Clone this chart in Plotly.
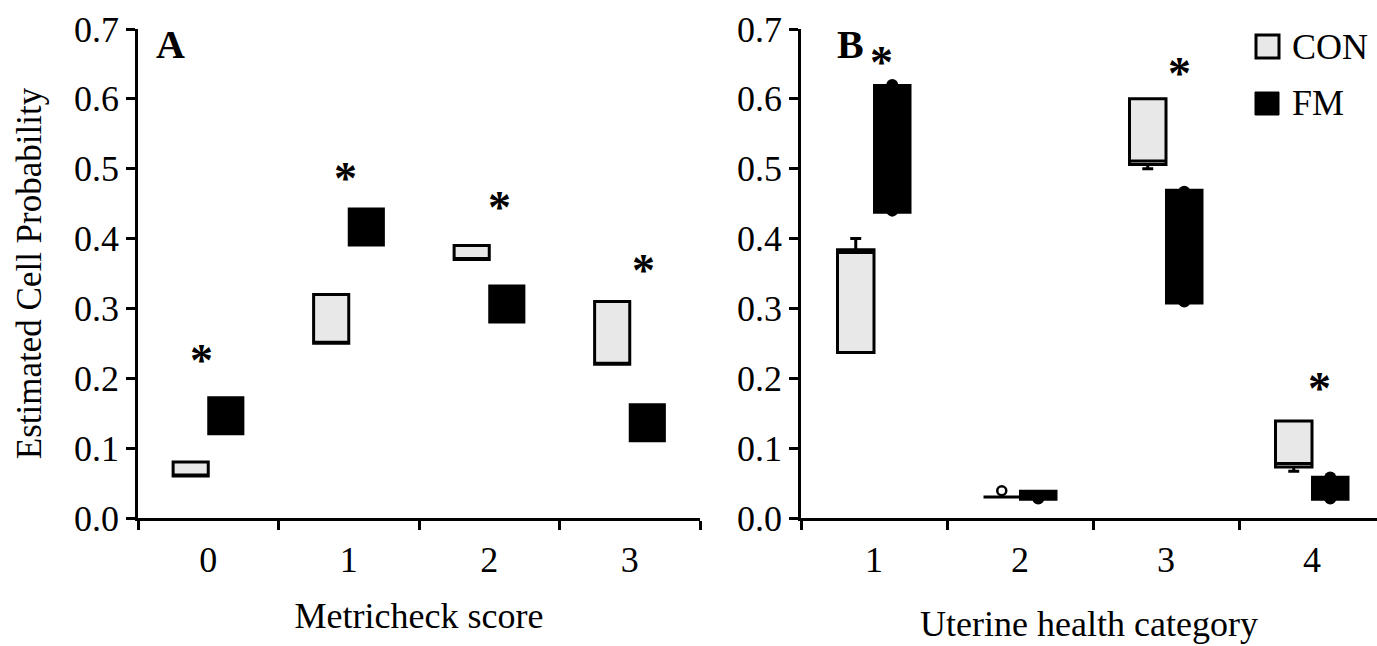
import plotly.graph_objects as go

W, H = 1377, 646
FONT = "Liberation Serif"

# ---------------- Panel A data (Metricheck score) ----------------
metricheck_scores = [0, 1, 2, 3]
metricheck_labels = ["0", "1", "2", "3"]
a_con_q1 = [0.06, 0.25, 0.37, 0.22]
a_con_q3 = [0.08, 0.32, 0.39, 0.31]
a_fm_q1 = [0.12, 0.39, 0.28, 0.11]
a_fm_q3 = [0.173, 0.443, 0.333, 0.163]
a_star_x = [-0.05, 0.98, 2.07, 3.10]
a_star_y = [0.233, 0.493, 0.451, 0.361]

# ---------------- Panel B data (Uterine health category) ----------------
uterine_cats = [1, 2, 3, 4]
uterine_labels = ["1", "2", "3", "4"]
b_con_q1 = [0.237, 0.030, 0.506, 0.073]
b_con_med = [0.380, 0.030, 0.511, 0.078]
b_con_q3 = [0.384, 0.030, 0.600, 0.139]
b_con_low = [0.237, 0.030, 0.500, 0.067]
b_con_up = [0.400, 0.030, 0.600, 0.139]
b_con_out_x = [2]
b_con_out_y = [0.039]
b_fm_q1 = [0.437, 0.026, 0.307, 0.026]
b_fm_q3 = [0.620, 0.039, 0.470, 0.059]
b_fm_dot_x = [1, 1, 2, 3, 3, 4, 4]
b_fm_dot_y = [0.440, 0.620, 0.028, 0.310, 0.467, 0.028, 0.058]
b_star_x = [1.05, 3.09, 4.05]
b_star_y = [0.659, 0.644, 0.193]

y_ticks = [0.0, 0.1, 0.2, 0.3, 0.4, 0.5, 0.6, 0.7]

CON_FILL = "#e8e8e8"
OFF = 0.125   # half box width: CON left of category, FM right
BW = 0.25

fig = go.Figure()

# Panel A boxes
fig.add_trace(go.Box(
    x=[c - OFF for c in metricheck_scores], q1=a_con_q1, median=a_con_q1, q3=a_con_q3,
    lowerfence=a_con_q1, upperfence=a_con_q3, width=BW, boxpoints=False,
    fillcolor=CON_FILL, line=dict(color="black", width=3), whiskerwidth=0.3,
    name="CON", showlegend=False, xaxis="x", yaxis="y"))
fig.add_trace(go.Box(
    x=[c + OFF for c in metricheck_scores], q1=a_fm_q1, median=a_fm_q1, q3=a_fm_q3,
    lowerfence=a_fm_q1, upperfence=a_fm_q3, width=BW, boxpoints=False,
    fillcolor="black", line=dict(color="black", width=2), whiskerwidth=0.3,
    name="FM", showlegend=False, xaxis="x", yaxis="y"))

# Panel B boxes
fig.add_trace(go.Box(
    x=[c - OFF for c in uterine_cats], q1=b_con_q1, median=b_con_med, q3=b_con_q3,
    lowerfence=b_con_low, upperfence=b_con_up, width=BW, boxpoints=False,
    fillcolor=CON_FILL, line=dict(color="black", width=3), whiskerwidth=0.3,
    name="CON", showlegend=False, xaxis="x2", yaxis="y2"))
fig.add_trace(go.Box(
    x=[c + OFF for c in uterine_cats], q1=b_fm_q1, median=b_fm_q1, q3=b_fm_q3,
    lowerfence=b_fm_q1, upperfence=b_fm_q3, width=BW, boxpoints=False,
    fillcolor="black", line=dict(color="black", width=2), whiskerwidth=0.3,
    name="FM", showlegend=False, xaxis="x2", yaxis="y2"))
fig.add_trace(go.Scatter(
    x=[c + OFF for c in b_fm_dot_x], y=b_fm_dot_y, mode="markers",
    marker=dict(symbol="circle", size=12, color="black"),
    showlegend=False, xaxis="x2", yaxis="y2"))
fig.add_trace(go.Scatter(
    x=[c - OFF for c in b_con_out_x], y=b_con_out_y, mode="markers",
    marker=dict(symbol="circle", size=9, color="white", line=dict(color="black", width=2.5)),
    showlegend=False, xaxis="x2", yaxis="y2"))

def px_x(p):
    return p / W

def px_y(p):
    return 1 - p / H

axis_common = dict(showline=True, linecolor="black", linewidth=2.5, showgrid=False,
                   zeroline=False, automargin=False,
                   tickfont=dict(family=FONT, size=36, color="black"))

ydom = [px_y(518), px_y(29)]
xdomA = [px_x(138), px_x(700)]
xdomB = [px_x(801), 1.0]

fig.update_layout(
    width=W, height=H, margin=dict(l=0, r=0, t=0, b=0, autoexpand=False), autosize=False,
    plot_bgcolor="white", paper_bgcolor="white", boxmode="overlay",
    font=dict(family=FONT, color="black"),
    xaxis=dict(domain=xdomA, range=[-0.5, 3.5], anchor="y",
               tickmode="array", tickvals=metricheck_scores, ticktext=metricheck_labels,
               ticks="", ticklabelstandoff=8,
               minor=dict(tickmode="array", tickvals=[-0.5, 0.5, 1.5, 2.5, 3.5],
                          ticks="outside", ticklen=9, tickwidth=2.5, tickcolor="black"),
               title=dict(text="Metricheck score", font=dict(family=FONT, size=36), standoff=24),
               **axis_common),
    yaxis=dict(domain=ydom, range=[0, 0.7], anchor="x",
               tickmode="array", tickvals=y_ticks, tickformat=".1f",
               ticks="outside", ticklen=9, tickwidth=2.5, tickcolor="black",
               title=dict(text="Estimated Cell Probability", font=dict(family=FONT, size=35), standoff=22),
               **axis_common),
    xaxis2=dict(domain=xdomB, range=[0.5, 0.5 + 576 / 146], anchor="y2",
                tickmode="array", tickvals=uterine_cats, ticktext=uterine_labels,
                ticks="", ticklabelstandoff=8,
                minor=dict(tickmode="array", tickvals=[0.5, 1.5, 2.5, 3.5, 4.5],
                           ticks="outside", ticklen=9, tickwidth=2.5, tickcolor="black"),
                title=dict(text="Uterine health category", font=dict(family=FONT, size=36), standoff=32),
                **axis_common),
    yaxis2=dict(domain=ydom, range=[0, 0.7], anchor="x2",
                tickmode="array", tickvals=y_ticks, tickformat=".1f",
                ticks="outside", ticklen=9, tickwidth=2.5, tickcolor="black",
                **axis_common),
)

ann = []
# panel letters
ann.append(dict(text="<b>A</b>", x=px_x(170), y=px_y(44), xref="paper", yref="paper",
                xanchor="center", yanchor="middle",
                showarrow=False, font=dict(family=FONT, size=40, color="black")))
ann.append(dict(text="<b>B</b>", x=px_x(850), y=px_y(44), xref="paper", yref="paper",
                xanchor="center", yanchor="middle",
                showarrow=False, font=dict(family=FONT, size=40, color="black")))
# asterisks
for sx, sy in zip(a_star_x, a_star_y):
    ann.append(dict(text="<b>*</b>", x=sx, y=sy, xref="x", yref="y", showarrow=False, yshift=-5,
                    xanchor="center", yanchor="middle",
                    font=dict(family=FONT, size=46, color="black")))
for sx, sy in zip(b_star_x, b_star_y):
    ann.append(dict(text="<b>*</b>", x=sx, y=sy, xref="x2", yref="y2", showarrow=False, yshift=-5,
                    xanchor="center", yanchor="middle",
                    font=dict(family=FONT, size=46, color="black")))
# legend text
ann.append(dict(text="CON", x=px_x(1290), y=px_y(47), xref="paper", yref="paper",
                xanchor="left", yanchor="middle",
                showarrow=False, font=dict(family=FONT, size=36, color="black")))
ann.append(dict(text="FM", x=px_x(1290), y=px_y(103), xref="paper", yref="paper",
                xanchor="left", yanchor="middle",
                showarrow=False, font=dict(family=FONT, size=36, color="black")))
fig.update_layout(annotations=ann)

shapes = [
    dict(type="rect", xref="paper", yref="paper", x0=px_x(1256), x1=px_x(1279),
         y0=px_y(58), y1=px_y(35), fillcolor=CON_FILL, line=dict(color="black", width=3)),
    dict(type="rect", xref="paper", yref="paper", x0=px_x(1255), x1=px_x(1279),
         y0=px_y(115), y1=px_y(92), fillcolor="black", line=dict(color="black", width=1)),
]
fig.update_layout(shapes=shapes)

fig.write_html("out.html")
